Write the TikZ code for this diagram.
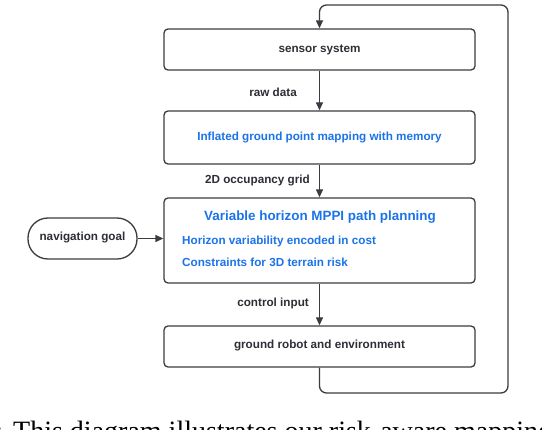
\documentclass[tikz,border=0pt]{standalone}
\usepackage{fontspec}
\setmainfont{Liberation Sans}
\newfontfamily\capfont{Liberation Serif}
\usetikzlibrary{arrows.meta}
\definecolor{ink}{RGB}{45,47,53}
\definecolor{lineclr}{RGB}{58,60,66}
\definecolor{blu}{RGB}{26,115,232}
\tikzset{
  box/.style={draw=lineclr, line width=1.3pt, rounded corners=4pt, minimum width=311pt, inner sep=0pt},
  lbl/.style={text=ink, font=\fontsize{11.7}{13}\selectfont\bfseries, inner sep=0pt},
  bl/.style={text=blu, font=\fontsize{11.7}{13}\selectfont\bfseries, inner sep=0pt},
  bltitle/.style={text=blu, font=\fontsize{13.4}{15}\selectfont\bfseries, inner sep=0pt},
  conn/.style={draw=lineclr, line width=1.3pt, -{Triangle[length=8pt,width=7pt]}},
}
\begin{document}
\begin{tikzpicture}[x=1pt,y=-1pt]
\useasboundingbox (0,0) rectangle (542,430);
\fill[white] (0,0) rectangle (542,430);
\node[box, minimum height=41pt] (sensor) at (319.5,49.5) {};
\node[lbl] (sensortxt) at (319.5,49.5) {sensor system};
\node[box, minimum height=53pt] (infl) at (319.5,137.5) {};
\node[bl] (infltxt) at (319.5,137.5) {Inflated ground point mapping with memory};
\node[box, minimum height=85pt] (mppi) at (319.5,240.5) {};
\node[bltitle] (mppititle) at (320,217.5) {Variable horizon MPPI path planning};
\node[bl, anchor=west] (mppia) at (182,241.5) {Horizon variability encoded in cost};
\node[bl, anchor=west] (mppib) at (182,262) {Constraints for 3D terrain risk};
\node[box, minimum height=41pt] (robot) at (319.5,346.5) {};
\node[lbl] (robottxt) at (319.5,345.5) {ground robot and environment};
\node[draw=lineclr, line width=1.3pt, rounded corners=20pt, minimum width=109pt, minimum height=41pt, inner sep=0pt] (nav) at (82.5,238.5) {};
\node[lbl] (navtxt) at (82.5,237.5) {navigation goal};
\draw[conn] (sensor) -- (infl);
\draw[conn] (infl) -- (mppi);
\draw[conn] (mppi) -- (robot);
\draw[conn] (nav.east) -- (nav.east -| mppi.west);
\node[lbl, anchor=east] (l1) at (297,92) {raw data};
\node[lbl, anchor=east] (l2) at (310,181) {2D occupancy grid};
\node[lbl, anchor=east] (l3) at (309,303) {control input};
\coordinate (lb) at (508,393);
\coordinate (lt) at (508,5);
\draw[conn, rounded corners=7pt] (robot.south) |- (lb) -- (lt) -| (sensor.north);
\begin{scope}
\clip (0,0) rectangle (542,430);
\node[anchor=base east, inner sep=0pt, font=\capfont\fontsize{28}{30}\selectfont] (capa) at (3,441) {:};
\node[anchor=base west, inner sep=0pt, font=\capfont\fontsize{28}{30}\selectfont] (capb) at (13,441) {This diagram illustrates our risk-aware mapping};
\end{scope}
\end{tikzpicture}
\end{document}
